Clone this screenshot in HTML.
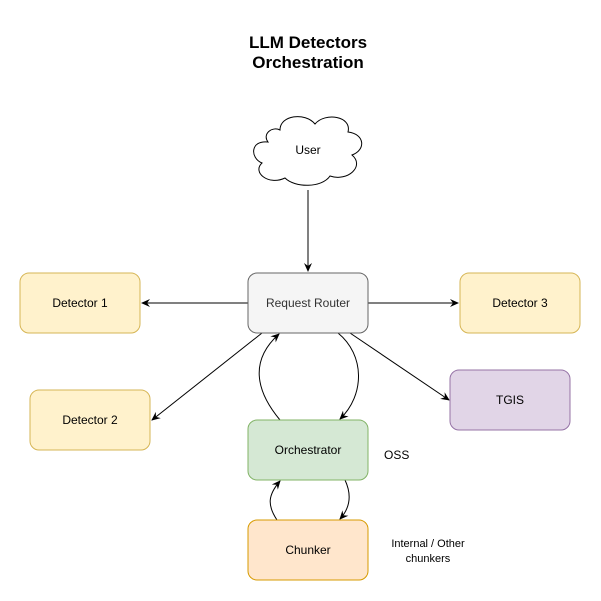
<!DOCTYPE html>
<html><head><style>body{margin:0;background:#fff}svg{display:block}</style></head><body>
<svg width="601" height="601" xmlns="http://www.w3.org/2000/svg" font-family="Liberation Sans, Arial, sans-serif">
<defs><marker id="a" markerWidth="10" markerHeight="10" refX="8" refY="5" orient="auto" markerUnits="userSpaceOnUse"><path d="M0,1 L9,5 L0,9 L3,5 Z" fill="#000"/></marker></defs>
<rect width="601" height="601" fill="#fff"/>
<text x="308" y="48" font-size="17" font-weight="bold" text-anchor="middle">LLM Detectors</text>
<text x="308" y="68" font-size="17" font-weight="bold" text-anchor="middle">Orchestration</text>
<path d="M280,130 C280,115 305,112 315,124 C325,112 352,116 348,132 C365,134 366,150 352,155 C365,166 348,182 330,176 C322,188 295,188 285,178 C268,186 252,172 262,163 C250,158 250,140 268,142 C262,134 272,126 280,130 Z" fill="#fff" stroke="#000" stroke-width="1"/>
<text x="308" y="154" font-size="12" text-anchor="middle">User</text>
<g stroke="#000" stroke-width="1" fill="none" marker-end="url(#a)">
<line x1="308" y1="190" x2="308" y2="271"/>
<line x1="248" y1="303" x2="142" y2="303"/>
<line x1="368" y1="303" x2="458" y2="303"/>
<line x1="262" y1="333" x2="152" y2="420"/>
<line x1="350" y1="333" x2="449" y2="400"/>
<path d="M280,420 C255,390 250,360 279,334"/>
<path d="M338,333 C365,355 365,395 340,419"/>
<path d="M277,520 C267,505 268,495 280,481"/>
<path d="M345,480 C352,495 350,508 340,519"/>
</g>
<rect x="248" y="273" width="120" height="60" rx="9" fill="#f5f5f5" stroke="#666"/>
<text x="308" y="307" font-size="12" text-anchor="middle" fill="#333">Request Router</text>
<rect x="20" y="273" width="120" height="60" rx="9" fill="#fff2cc" stroke="#d6b656"/>
<text x="80" y="307" font-size="12" text-anchor="middle">Detector 1</text>
<rect x="460" y="273" width="120" height="60" rx="9" fill="#fff2cc" stroke="#d6b656"/>
<text x="520" y="307" font-size="12" text-anchor="middle">Detector 3</text>
<rect x="30" y="390" width="120" height="60" rx="9" fill="#fff2cc" stroke="#d6b656"/>
<text x="90" y="424" font-size="12" text-anchor="middle">Detector 2</text>
<rect x="450" y="370" width="120" height="60" rx="9" fill="#e1d5e7" stroke="#9673a6"/>
<text x="510" y="404" font-size="12" text-anchor="middle">TGIS</text>
<rect x="248" y="420" width="120" height="60" rx="9" fill="#d5e8d4" stroke="#82b366"/>
<text x="308" y="454" font-size="12" text-anchor="middle">Orchestrator</text>
<rect x="248" y="520" width="120" height="60" rx="9" fill="#ffe6cc" stroke="#d79b00"/>
<text x="308" y="554" font-size="12" text-anchor="middle">Chunker</text>
<text x="384" y="459" font-size="12">OSS</text>
<text x="428" y="547" font-size="11" text-anchor="middle">Internal / Other</text>
<text x="428" y="562" font-size="11" text-anchor="middle">chunkers</text>
</svg>
</body></html>
